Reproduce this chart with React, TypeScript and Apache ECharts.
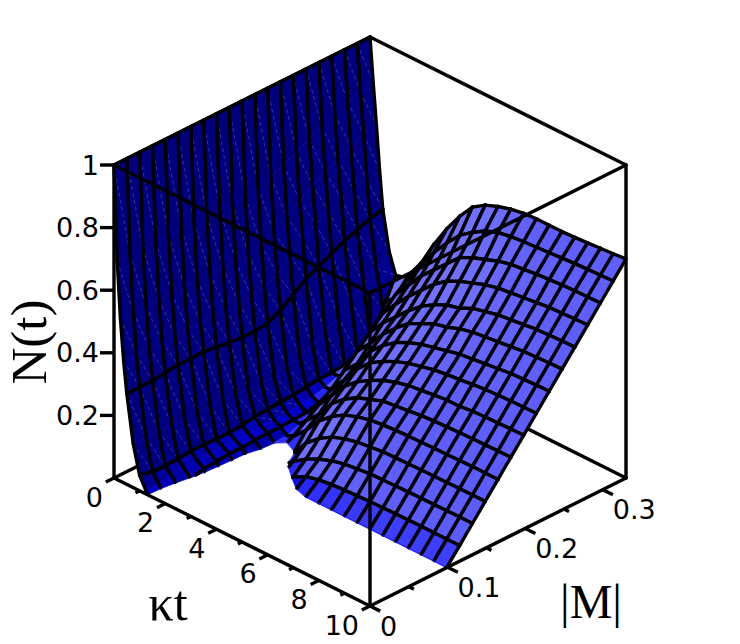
import React, { useEffect, useRef } from "react";
import * as echarts from "echarts";

// kappa*t sample rows (the finer first rows only shape the steep decay)
const KT = [0, 0.125, 0.25, 0.375, 0.5, 0.75, 1, 1.25, 1.5, 1.75, 2, 2.5, 3, 3.5, 4, 4.5, 5, 5.5, 6, 6.5, 7, 7.5, 8, 8.5, 9, 9.5, 10];
const MESH_KT = [0, 0.5, 1, 1.5, 2, 2.5, 3, 3.5, 4, 4.5, 5, 5.5, 6, 6.5, 7, 7.5, 8, 8.5, 9, 9.5, 10];
const M_MAX = 0.33;
const M_VALUES = [0, 0.0165, 0.033, 0.0495, 0.066, 0.0825, 0.099, 0.1155, 0.132, 0.1485, 0.165, 0.1815, 0.198, 0.2145, 0.231, 0.2475, 0.264, 0.2805, 0.297, 0.3135, 0.33];
const CUT_TAIL = [-0.05, -0.05, -0.05, -0.05, -0.05, -0.05, -0.05, -0.05, -0.05, -0.05, -0.05, -0.05, -0.05, -0.05, -0.05, -0.05];

// N(t), one list per |M| value, one entry per KT value; negative = not drawn
const N_BY_M = [
  [1, .70, .52, .39, .29, .14, .05, .01, -.03, -.05, -.05, ...CUT_TAIL],
  [1, .70, .52, .39, .29, .14, .04, .012, -.025, -.05, -.05, ...CUT_TAIL],
  [1, .70, .52, .39, .29, .14, .038, .018, -.012, -.05, -.05, ...CUT_TAIL],
  [1, .70, .52, .39, .295, .14, .04, .02, -.002, -.04, -.05, ...CUT_TAIL],
  [1, .70, .52, .39, .30, .14, .045, .025, .008, -.03, -.05, ...CUT_TAIL],
  [1, .70, .52, .39, .30, .14, .045, .028, .012, -.025, -.05, ...CUT_TAIL],
  [1, .70, .52, .39, .30, .14, .043, .028, .015, -.02, -.05, -.05, -.05, -.03, -.008, .001, .001, .001, .001, .001, .001, .001, .001, .001, .001, .001, .001],
  [1, .70, .52, .39, .295, .14, .042, .028, .016, -.015, -.04, -.04, -.02, .003, .025, .035, .04, .043, .045, .047, .048, .049, .05, .05, .05, .05, .05],
  [1, .70, .52, .39, .29, .135, .045, .03, .018, -.001, -.03, -.02, .012, .04, .06, .075, .085, .09, .095, .096, .097, .098, .099, .099, .1, .1, .1],
  [1, .70, .52, .39, .285, .13, .052, .032, .02, .001, -.01, -.005, .05, .085, .11, .125, .135, .14, .145, .146, .147, .148, .149, .149, .15, .15, .15],
  [1, .70, .52, .39, .285, .13, .056, .032, .02, .003, .01, .05, .10, .135, .16, .175, .185, .19, .193, .195, .196, .197, .198, .199, .2, .2, .2],
  [1, .71, .53, .40, .29, .13, .058, .034, .022, .02, .04, .08, .135, .17, .195, .21, .225, .23, .235, .24, .243, .245, .247, .248, .249, .25, .25],
  [1, .72, .55, .42, .31, .14, .06, .04, .025, .04, .07, .12, .17, .205, .23, .25, .265, .275, .28, .285, .29, .29, .295, .297, .298, .3, .3],
  [1, .74, .58, .46, .34, .155, .065, .045, .035, .06, .10, .15, .205, .245, .27, .29, .305, .315, .325, .33, .335, .34, .344, .346, .348, .349, .35],
  [1, .76, .61, .49, .37, .17, .07, .055, .055, .09, .14, .18, .24, .28, .31, .33, .345, .355, .365, .375, .38, .385, .39, .395, .397, .399, .40],
  [1, .78, .64, .52, .39, .19, .07, .07, .085, .12, .18, .225, .275, .315, .35, .37, .39, .40, .415, .425, .43, .435, .44, .445, .447, .449, .45],
  [1, .80, .66, .54, .41, .22, .075, .10, .12, .16, .22, .27, .31, .35, .385, .41, .43, .44, .46, .47, .48, .485, .49, .495, .497, .499, .50],
  [1, .82, .68, .56, .43, .25, .09, .135, .16, .20, .26, .31, .355, .395, .435, .465, .485, .50, .515, .525, .53, .535, .54, .545, .547, .549, .55],
  [1, .84, .70, .57, .445, .28, .12, .18, .205, .24, .30, .35, .40, .44, .48, .52, .54, .555, .57, .58, .585, .59, .593, .596, .598, .599, .60],
  [1, .85, .72, .58, .46, .31, .19, .23, .25, .285, .33, .395, .455, .505, .55, .58, .605, .62, .628, .632, .635, .638, .641, .644, .646, .648, .65],
  [1, .86, .73, .59, .47, .345, .28, .285, .30, .33, .36, .44, .51, .57, .62, .647, .663, .675, .682, .685, .685, .685, .687, .69, .693, .696, .70],
];

const N_TICKS = [0.2, 0.4, 0.6, 0.8, 1];
const N_TICK_LABELS = ["0.2", "0.4", "0.6", "0.8", "1"];
const KT_MAJOR = [0, 2, 4, 6, 8, 10];
const KT_MINOR = [1, 3, 5, 7, 9];
const KT_LABELS = ["0", "2", "4", "6", "8", "10"];
const M_MAJOR = [0, 0.1, 0.2, 0.3];
const M_MINOR = [0.05, 0.15, 0.25];
const M_LABELS = ["0", "0.1", "0.2", "0.3"];

type P = [number, number];
type V3 = [number, number, number]; // kt, |M|, N

const project = (kt: number, m: number, n: number): P => {
  const a = kt / 10;
  const b = m / M_MAX;
  return [114 + 256 * (a + b), 478 + 128 * (a - b) - 313 * n];
};

const LIGHT = [-0.4, -0.7, 0.6];
const RAMP: [number, number, number, number][] = [
  [-0.4, 0, 0, 125],
  [0.2, 0, 0, 155],
  [0.45, 0, 0, 215],
  [0.7, 40, 40, 255],
  [0.95, 100, 100, 255],
  [1.1, 140, 140, 255],
];
const shade = (I: number) => {
  if (I <= RAMP[0][0]) return `rgb(${RAMP[0][1]},${RAMP[0][2]},${RAMP[0][3]})`;
  for (let k = 1; k < RAMP.length; k++) {
    if (I <= RAMP[k][0]) {
      const u = (I - RAMP[k - 1][0]) / (RAMP[k][0] - RAMP[k - 1][0]);
      const c = [1, 2, 3].map((q) => Math.round(RAMP[k - 1][q] + u * (RAMP[k][q] - RAMP[k - 1][q])));
      return `rgb(${c[0]},${c[1]},${c[2]})`;
    }
  }
  return "rgb(140,140,255)";
};

const clipPoly = (pts: V3[], floor: number) => {
  const out: V3[] = [];
  for (let k = 0; k < pts.length; k++) {
    const a = pts[k];
    const b = pts[(k + 1) % pts.length];
    const ia = a[2] >= floor;
    const ib = b[2] >= floor;
    if (ia) out.push(a);
    if (ia !== ib) {
      const u = (floor - a[2]) / (b[2] - a[2]);
      out.push([a[0] + u * (b[0] - a[0]), a[1] + u * (b[1] - a[1]), floor]);
    }
  }
  return out;
};
const clipSeg = (a: V3, b: V3, floor: number): V3[] | null => {
  const ia = a[2] >= floor;
  const ib = b[2] >= floor;
  if (!ia && !ib) return null;
  if (ia && ib) return [a, b];
  const u = (floor - a[2]) / (b[2] - a[2]);
  const c: V3 = [a[0] + u * (b[0] - a[0]), a[1] + u * (b[1] - a[1]), floor];
  return ia ? [a, c] : [c, b];
};

const LINE_W = 3.4;

function cellItem(i: number, j: number, api: any) {
  const v = (r: number, c: number): V3 => [KT[r], M_VALUES[c], N_BY_M[c][r]];
  const toPx = (q: V3) => api.coord(project(q[0], q[1], q[2]));
  const quad = [v(i, j), v(i + 1, j), v(i + 1, j + 1), v(i, j + 1)];
  const poly = clipPoly(quad, 0);
  if (poly.length < 3) return { type: "group", children: [] };
  const z = quad.map((q) => Math.max(0, q[2]));
  const dA = (KT[i + 1] - KT[i]) / 10;
  const dB = (M_VALUES[j + 1] - M_VALUES[j]) / M_MAX;
  const Na = ((z[1] + z[2]) - (z[0] + z[3])) / 2 / dA;
  const Nb = ((z[2] + z[3]) - (z[0] + z[1])) / 2 / dB;
  const len = Math.sqrt(Na * Na + Nb * Nb + 1);
  let I = (-Na * LIGHT[0] - Nb * LIGHT[1] + LIGHT[2]) / len;
  const mean = (z[0] + z[1] + z[2] + z[3]) / 4;
  if (mean < 0.04 && I > 0.75) I -= 0.35 * (1 - mean / 0.04);
  const fill = shade(I);
  const children: any[] = [
    {
      type: "polygon",
      shape: { points: poly.map(toPx) },
      style: { fill, stroke: fill, lineWidth: 0.7 },
    },
  ];
  if (I < 0.25 && mean > 0.03) {
    const a = toPx(quad[0]);
    const b = toPx(quad[2]);
    children.push({
      type: "line",
      shape: { x1: a[0], y1: a[1], x2: b[0], y2: b[1] },
      style: { stroke: "rgba(190,190,255,0.45)", lineWidth: 0.6, lineDash: [4, 3] },
    });
  }
  const edges: [V3, V3][] = [];
  if (MESH_KT.includes(KT[i])) edges.push([quad[0], quad[3]]);
  if (MESH_KT.includes(KT[i + 1])) edges.push([quad[1], quad[2]]);
  edges.push([quad[0], quad[1]]);
  edges.push([quad[3], quad[2]]);
  edges.forEach(([a, b]) => {
    const s = clipSeg(a, b, 0.002);
    if (!s) return;
    const p = toPx(s[0]);
    const q = toPx(s[1]);
    children.push({
      type: "line",
      shape: { x1: p[0], y1: p[1], x2: q[0], y2: q[1] },
      style: { stroke: "#000", lineWidth: LINE_W, lineCap: "round" },
    });
  });
  return { type: "group", children };
}

const KT_END = 10;
const BACK_EDGES: V3[][] = [
  [[0, M_MAX, 1], [0, 0, 1]],
  [[0, M_MAX, 1], [KT_END, M_MAX, 1]],
  [[0, M_MAX, 0], [0, M_MAX, 1]],
  [[0, M_MAX, 0], [0, 0, 0]],
  [[0, M_MAX, 0], [KT_END, M_MAX, 0]],
];
const FRONT_EDGES: V3[][] = [
  [[0, 0, 1], [KT_END, 0, 1]],
  [[KT_END, M_MAX, 1], [KT_END, 0, 1]],
  [[KT_END, 0, 0], [KT_END, 0, 1]],
  [[0, 0, 0], [0, 0, 1]],
  [[KT_END, M_MAX, 0], [KT_END, M_MAX, 1]],
  [[0, 0, 0], [KT_END, 0, 0]],
  [[KT_END, 0, 0], [KT_END, M_MAX, 0]],
];
const TICK_EDGES: { s: V3; e: V3 }[] = [
  ...KT_MAJOR.map((k) => ({ s: [k, 0, 0] as V3, e: [k, -0.032 * M_MAX, 0] as V3 })),
  ...KT_MINOR.map((k) => ({ s: [k, 0, 0] as V3, e: [k, -0.016 * M_MAX, 0] as V3 })),
  ...M_MAJOR.map((m) => ({ s: [10, m, 0] as V3, e: [10.4, m, 0] as V3 })),
  ...M_MINOR.map((m) => ({ s: [10, m, 0] as V3, e: [10.2, m, 0] as V3 })),
];

const edgeRender = (edges: V3[][]) => (params: any, api: any) => {
  const e = edges[params.dataIndex];
  const a = api.coord(project(...e[0]));
  const b = api.coord(project(...e[1]));
  return {
    type: "line",
    shape: { x1: a[0], y1: a[1], x2: b[0], y2: b[1] },
    style: { stroke: "#000", lineWidth: LINE_W, lineCap: "round" },
  };
};

export default function App() {
  const ref = useRef<HTMLDivElement>(null);
  useEffect(() => {
    if (!ref.current) return;
    const chart = echarts.init(ref.current, undefined, { renderer: "svg" });
    const cells: number[][] = [];
    for (let i = 0; i < KT.length - 1; i++) {
      for (let j = M_VALUES.length - 2; j >= 0; j--) cells.push([i, j]);
    }
    const text = (t: string, p: P, align: string, size: number, family: string, extra: any = {}) => ({
      type: "text",
      x: p[0],
      y: p[1],
      ...extra,
      style: { text: t, fontSize: size, fontFamily: family, fill: "#000", textAlign: align, textVerticalAlign: "middle" },
    });
    const sans = '"DejaVu Sans"';
    const serif = '"Liberation Serif"';
    const labels: any[] = [
      ...N_TICKS.map((n, k) => {
        const p = project(0, 0, n);
        return text(N_TICK_LABELS[k], [p[0] - 15, p[1]], "right", 27, sans);
      }),
      ...KT_MAJOR.map((v, k) => {
        const p = project(v, 0, 0);
        return text(KT_LABELS[k], [p[0] - 11, p[1] + 19], "right", 27, sans);
      }),
      ...M_MAJOR.map((v, k) => {
        const p = project(10, v, 0);
        return text(M_LABELS[k], [p[0] + 10, p[1] + 20], "left", 27, sans);
      }),
      text("N(t)", [29, 342], "center", 51, serif, { rotation: Math.PI / 2 }),
      text("κt", [168, 603], "center", 50, serif),
      text("|M|", [591, 601], "center", 48, serif),
    ];
    const nTickData = N_TICKS;
    chart.setOption({
      animation: false,
      backgroundColor: "#fff",
      grid: { left: 0, right: 0, top: 0, bottom: 0 },
      xAxis: { type: "value", min: 0, max: 740, show: false },
      yAxis: { type: "value", min: 0, max: 644, inverse: true, show: false },
      graphic: labels,
      series: [
        {
          type: "custom",
          coordinateSystem: "cartesian2d",
          clip: false,
          silent: true,
          z: 1,
          data: BACK_EDGES.map((_, k) => [k]),
          renderItem: edgeRender(BACK_EDGES),
        },
        {
          type: "custom",
          coordinateSystem: "cartesian2d",
          clip: false,
          silent: true,
          z: 2,
          data: cells,
          renderItem: (params: any, api: any) => {
            const c = cells[params.dataIndex];
            return cellItem(c[0], c[1], api);
          },
        },
        {
          type: "custom",
          coordinateSystem: "cartesian2d",
          clip: false,
          silent: true,
          z: 3,
          data: FRONT_EDGES.map((_, k) => [k]),
          renderItem: edgeRender(FRONT_EDGES),
        },
        {
          type: "custom",
          coordinateSystem: "cartesian2d",
          clip: false,
          silent: true,
          z: 3,
          data: TICK_EDGES.map((_, k) => [k]),
          renderItem: (params: any, api: any) => {
            const t = TICK_EDGES[params.dataIndex];
            const a = api.coord(project(...t.s));
            const b = api.coord(project(...t.e));
            return {
              type: "line",
              shape: { x1: a[0], y1: a[1], x2: b[0], y2: b[1] },
              style: { stroke: "#000", lineWidth: LINE_W },
            };
          },
        },
        {
          type: "custom",
          coordinateSystem: "cartesian2d",
          clip: false,
          silent: true,
          z: 3,
          data: nTickData.map((n) => [n]),
          renderItem: (params: any, api: any) => {
            const p = api.coord(project(0, 0, nTickData[params.dataIndex]));
            return {
              type: "line",
              shape: { x1: p[0] - 14, y1: p[1], x2: p[0], y2: p[1] },
              style: { stroke: "#000", lineWidth: LINE_W },
            };
          },
        },
      ],
    });
    return () => chart.dispose();
  }, []);
  return <div ref={ref} style={{ position: "absolute", left: 0, top: 0, width: 740, height: 644 }} />;
}
